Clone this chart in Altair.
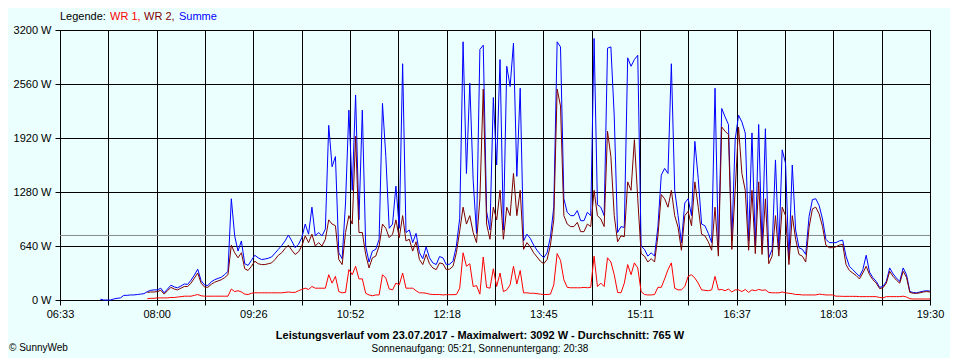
import altair as alt
import pandas as pd

# ---------------- data ----------------
START_MIN = 429      # 07:09, first logged sample
STEP_MIN = 3         # logging interval in minutes
AXIS_START = 393     # 06:33
AXIS_END = 1170      # 19:30
WR_START = 14        # index where WR 1 / WR 2 start reporting

summe = [
    10, 0, 0, 0, 12, 20, 25, 55, 55, 60,
    60, 65, 70, 75, 100, 115, 120, 120, 140, 85,
    130, 175, 155, 145, 165, 190, 185, 235, 295, 365,
    230, 180, 170, 215, 240, 255, 270, 300, 340, 1200,
    760, 580, 700, 430, 410, 470, 530, 500, 480, 485,
    495, 510, 555, 600, 645, 700, 770, 700, 620, 660,
    740, 900, 780, 1100, 760, 800, 760, 840, 2070, 1580,
    1700, 560, 490, 1150, 2250, 1300, 2430, 950, 2250, 640,
    450, 580, 600, 720, 2330, 1700, 850, 900, 1350, 850,
    2800, 800, 830, 680, 790, 560, 490, 630, 500, 440,
    420, 515, 500, 420, 425, 460, 640, 970, 3060, 1500,
    2570, 1420, 790, 2970, 3020, 1050, 830, 2400, 1600, 2850,
    830, 2770, 2530, 3045, 1465, 2510, 700, 780, 730, 650,
    590, 540, 500, 560, 750, 1100, 3060, 3000, 1200, 1040,
    1000, 1000, 1060, 940, 940, 1040, 1000, 3100, 1130, 1100,
    1000, 2985, 3000, 2180, 800, 870, 860, 2870, 2770, 2850,
    2900, 640, 600, 520, 560, 520, 870, 1480, 1560, 1500,
    2800, 1300, 1000, 680, 1150, 1200, 1000, 1880, 1440, 900,
    880, 790, 680, 2510, 600, 2270, 2170, 2080, 700, 1900,
    2190, 2110, 1980, 700, 1980, 640, 2080, 620, 2030, 500,
    600, 1660, 600, 1780, 1620, 480, 1600, 830, 620, 600,
    540, 990, 1190, 1200, 1120, 960, 720, 680, 680, 680,
    700, 710, 520, 400, 360, 320, 280, 360, 530, 330,
    265, 220, 150, 160, 220, 380, 310, 260, 220, 380,
    300, 100, 88, 85, 95, 105, 110, 105,
]

wr2 = [
    90, 95, 95, 100, 115, 70,
    110, 150, 130, 120, 140, 160, 160, 200, 260, 320,
    200, 155, 150, 185, 210, 225, 240, 265, 300, 650,
    560, 500, 560, 370, 350, 400, 460, 430, 420, 420,
    430, 440, 480, 530, 560, 610, 650, 590, 540, 570,
    640, 760, 680, 780, 640, 680, 640, 720, 950, 900,
    880, 480, 420, 800, 1000, 900, 1940, 800, 800, 540,
    380, 500, 520, 640, 900, 850, 740, 780, 950, 740,
    1000, 700, 720, 580, 690, 480, 420, 540, 430, 380,
    360, 440, 430, 360, 365, 400, 560, 820, 1100, 900,
    1000, 800, 680, 1200, 2500, 900, 720, 1100, 950, 1300,
    720, 1100, 1000, 1500, 1000, 1300, 600, 680, 630, 560,
    510, 460, 430, 480, 650, 950, 2500, 2300, 1000, 900,
    870, 870, 920, 810, 810, 900, 870, 1300, 1000, 960,
    870, 2000, 1700, 1000, 690, 760, 750, 1400, 1300, 1900,
    1200, 550, 520, 450, 490, 450, 760, 1250, 1200, 1100,
    1300, 1000, 860, 590, 1000, 1050, 880, 1400, 1100, 780,
    760, 690, 590, 1100, 520, 2050, 2000, 1960, 600, 1300,
    2050, 1500, 1300, 590, 1300, 550, 1400, 540, 1200, 430,
    520, 1000, 520, 1100, 1000, 420, 1000, 720, 540, 520,
    450, 860, 1080, 1100, 1020, 870, 650, 620, 620, 630,
    650, 660, 420, 350, 320, 290, 250, 320, 400, 300,
    240, 200, 135, 145, 200, 340, 280, 235, 200, 340,
    270, 90, 80, 78, 85, 95, 100, 95,
]

wr1 = [
    15, 20, 20, 25, 25, 25,
    25, 30, 30, 35, 40, 45, 45, 45, 55, 65,
    50, 45, 45, 45, 45, 45, 45, 45, 45, 130,
    100, 110, 95, 70, 65, 80, 85, 85, 85, 85,
    85, 85, 85, 85, 85, 90, 95, 90, 90, 110,
    125, 140, 125, 160, 140, 140, 140, 140, 300, 200,
    280, 100, 85, 90, 360, 300, 400, 250, 250, 80,
    60, 50, 60, 60, 300, 260, 130, 120, 200, 180,
    320, 140, 140, 140, 110, 85, 85, 80, 70, 65,
    65, 65, 60, 63, 63, 63, 65, 140, 560, 400,
    430, 160, 170, 70, 510, 150, 140, 370, 160, 320,
    100, 120, 180, 400, 190, 350, 85, 85, 80, 80,
    75, 70, 65, 65, 70, 180, 550, 470, 240, 150,
    145, 145, 145, 145, 150, 145, 150, 520, 160, 200,
    160, 500, 450, 300, 90, 85, 200, 420, 300, 440,
    380, 100, 65, 60, 60, 65, 150, 150, 250, 360,
    440, 140, 120, 120, 160, 280, 300, 260, 200, 120,
    115, 110, 120, 280, 120, 125, 110, 130, 95, 120,
    120, 100, 125, 90, 120, 110, 125, 115, 120, 90,
    85, 85, 85, 95, 85, 80, 75, 65, 65, 60,
    60, 60, 60, 60, 70, 65, 60, 60, 60, 45,
    45, 43, 43, 43, 43, 43, 40, 40, 40, 40,
    40, 40, 30, 25, 40, 40, 40, 40, 40, 45,
    35, 15, 12, 12, 12, 12, 12, 12,
]

tick_labels = ["06:33", "08:00", "09:26", "10:52", "12:18",
               "13:45", "15:11", "16:37", "18:03", "19:30"]
y_ticks = [0, 640, 1280, 1920, 2560, 3200]
average_w = 765
title_text = "Leistungsverlauf vom 23.07.2017 - Maximalwert: 3092 W - Durchschnitt: 765 W"
sun_text = "Sonnenaufgang: 05:21, Sonnenuntergang: 20:38"
copyright_text = "\u00a9 SunnyWeb"
legend_head = "Legende:"
legend_items = ["WR 1,", "WR 2,", "Summe"]

# ---------------- tables ----------------
times = [START_MIN + STEP_MIN * i for i in range(len(summe))]


def series_frame(values, offset):
    return pd.DataFrame({"t": times[offset:offset + len(values)], "w": values})


df_sum = series_frame(summe, 0)
df_wr2 = series_frame(wr2, WR_START)
df_wr1 = series_frame(wr1, WR_START)

n_grid = 2 * (len(tick_labels) - 1)
grid_step = (AXIS_END - AXIS_START) / n_grid
grid_values = [AXIS_START + i * grid_step for i in range(n_grid + 1)]
label_list = [tick_labels[i // 2] if i % 2 == 0 else "" for i in range(n_grid + 1)]
label_expr = ("[" + ",".join("'" + s + "'" for s in label_list) + "]"
              + f"[round((datum.value - {AXIS_START}) / {grid_step})]")

FONT = "Liberation Sans"
BG = "#EBFFFF"

x_enc = alt.X("t:Q",
              scale=alt.Scale(domain=[AXIS_START, AXIS_END], nice=False, zero=False),
              axis=alt.Axis(values=grid_values, labelExpr=label_expr, title=None,
                            labelFlush=False, labelOverlap=False, labelPadding=3))
y_enc = alt.Y("w:Q",
              scale=alt.Scale(domain=[0, 3200], nice=False),
              axis=alt.Axis(values=y_ticks, labelExpr="datum.value + ' W'", title=None,
                            labelPadding=4, labelOverlap=False, labelFlush=False))

avg_rule = alt.Chart(pd.DataFrame({"w": [average_w]})).mark_rule(
    color="#888888", strokeWidth=1).encode(y=y_enc)

line_sum = alt.Chart(df_sum).mark_line(color="#0000FF", strokeWidth=1,
                                       interpolate="linear").encode(x=x_enc, y=y_enc)
line_wr2 = alt.Chart(df_wr2).mark_line(color="#800000", strokeWidth=1,
                                       interpolate="linear").encode(x=x_enc, y=y_enc)
line_wr1 = alt.Chart(df_wr1).mark_line(color="#FF0000", strokeWidth=1,
                                       interpolate="linear").encode(x=x_enc, y=y_enc)


def label(text, x, y, color="black", size=11, weight="normal", align="left"):
    return alt.Chart(pd.DataFrame({"s": [text]})).mark_text(
        font=FONT, fontSize=size, fontWeight=weight, color=color,
        align=align, baseline="middle").encode(
        text="s:N", x=alt.value(x), y=alt.value(y))


legend_colors = ["#FF0000", "#800000", "#0000FF"]
legend_x = [50, 84, 119]
texts = [label(legend_head, 0, -13)]
for txt, col, lx in zip(legend_items, legend_colors, legend_x):
    texts.append(label(txt, lx, -13, color=col))
texts.append(label(title_text, 420, 306, weight="bold", align="center"))
texts.append(label(sun_text, 420, 319, size=10, align="center"))
texts.append(label(copyright_text, -51, 318, size=10))

chart = alt.layer(avg_rule, line_sum, line_wr2, line_wr1, *texts).properties(
    width=870, height=270,
    padding={"left": 52, "top": 22, "right": 20, "bottom": 58},
    autosize=alt.AutoSizeParams(type="none"),
    background=BG,
).configure_view(
    stroke="black", strokeWidth=1, fill=BG
).configure_axis(
    grid=True, gridColor="black", gridOpacity=1, gridWidth=1,
    domainColor="black", domainWidth=1, tickColor="black", tickSize=5, tickWidth=1,
    labelColor="black", labelFont=FONT, labelFontSize=11,
)

chart.save("out.html", embed_options={"renderer": "svg", "actions": False})
